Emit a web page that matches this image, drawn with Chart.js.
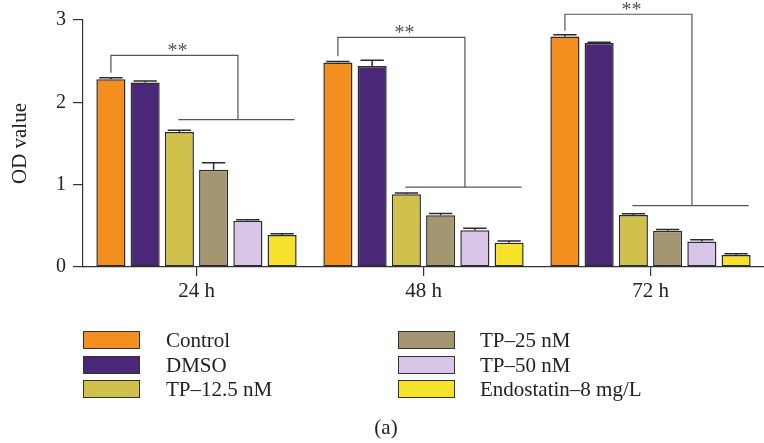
<!DOCTYPE html>
<html>
<head>
<meta charset="utf-8">
<script src="https://cdn.jsdelivr.net/npm/chart.js@4/dist/chart.umd.min.js"></script>
<style>
  html, body { margin: 0; padding: 0; background: #fff; }
  #wrap { position: relative; width: 764px; height: 443px; overflow: hidden; }
  canvas { position: absolute; left: 0; top: 0; }
  .lg { position: absolute; font-family: "Liberation Serif", "Times New Roman", serif; font-size: 21px; color: #222; white-space: nowrap; line-height: 1; }
  .sw { position: absolute; box-sizing: border-box; border: 1.5px solid #333; width: 57px; height: 18px; }
  #cap { position: absolute; left: 0; width: 764px; top: 417px; text-align: center; padding-left: 4px;
         font-family: "Liberation Serif", serif; font-size: 21px; color: #222; line-height: 1; }
</style>
</head>
<body>
<div id="wrap">
  <canvas id="c" width="764" height="443"></canvas>
  <div id="legend"></div>
  <div id="cap">(a)</div>
</div>
<script>
// ---- data ----
const categories = ['24 h', '48 h', '72 h'];
const seriesNames = ['Control', 'DMSO', 'TP\u201312.5 nM', 'TP\u201325 nM', 'TP\u201350 nM', 'Endostatin\u20138 mg/L'];

const controlValues = [2.28, 2.485, 2.80];
const dmsoValues    = [2.24, 2.44, 2.72];
const tp125Values   = [1.64, 0.885, 0.633];
const tp25Values    = [1.18, 0.63, 0.44];
const tp50Values    = [0.563, 0.447, 0.31];
const endoValues    = [0.39, 0.296, 0.146];

const controlErr = [0.02, 0.01, 0.02];
const dmsoErr    = [0.02, 0.07, 0.01];
const tp125Err   = [0.02, 0.015, 0.015];
const tp25Err    = [0.085, 0.02, 0.015];
const tp50Err    = [0.01, 0.025, 0.02];
const endoErr    = [0.015, 0.02, 0.015];

const yTicks = [0, 1, 2, 3];

// significance brackets (values in OD units)
const sigLabels      = ['**', '**', '**'];
const bracketTop     = [2.57, 2.79, 3.07];
const bracketLeftEnd = [2.36, 2.56, 2.87];
const bracketLow     = [1.79, 0.97, 0.745];

// ---- styles ----
const colours = ['#F28F1F', '#4A2777', '#CFC14C', '#A49670', '#D9C5E8', '#F6E22A'];
const serif = '"Liberation Serif", "Times New Roman", serif';

const allValues = [controlValues, dmsoValues, tp125Values, tp25Values, tp50Values, endoValues];
const allErr = [controlErr, dmsoErr, tp125Err, tp25Err, tp50Err, endoErr];

const datasets = seriesNames.map((name, i) => ({
  label: name,
  data: allValues[i],
  errors: allErr[i],
  backgroundColor: colours[i],
  borderColor: '#2b2b2b',
  borderWidth: 1.5,
  borderSkipped: false,
  categoryPercentage: 0.905,
  barPercentage: 0.85
}));

const errorBarPlugin = {
  id: 'errorBars',
  afterDatasetsDraw(chart) {
    const ctx = chart.ctx;
    const y = chart.scales.y;
    ctx.save();
    ctx.strokeStyle = '#2b2b2b';
    ctx.lineWidth = 1.5;
    chart.data.datasets.forEach((ds, di) => {
      const meta = chart.getDatasetMeta(di);
      meta.data.forEach((bar, i) => {
        const v = ds.data[i], e = ds.errors[i];
        const top = y.getPixelForValue(v);
        const cap = y.getPixelForValue(v + e);
        const half = bar.width * 0.4;
        ctx.beginPath();
        ctx.moveTo(bar.x, top);
        ctx.lineTo(bar.x, cap);
        ctx.moveTo(bar.x - half, cap);
        ctx.lineTo(bar.x + half, cap);
        ctx.stroke();
      });
    });
    ctx.restore();
  }
};

const bracketPlugin = {
  id: 'brackets',
  afterDraw(chart) {
    const ctx = chart.ctx;
    const y = chart.scales.y;
    ctx.save();
    ctx.strokeStyle = '#555';
    ctx.lineWidth = 1.2;
    categories.forEach((c, i) => {
      const b = k => chart.getDatasetMeta(k).data[i];
      const slot = b(4).x - b(3).x;
      const center = (b(2).x + b(3).x) / 2;
      const xLeft = b(0).x;
      const xRight = center + 1.21 * slot;
      const yTop = y.getPixelForValue(bracketTop[i]);
      const yLeftEnd = y.getPixelForValue(bracketLeftEnd[i]);
      const yLow = y.getPixelForValue(bracketLow[i]);
      const lowStart = b(2).x - 1;
      const lowEnd = b(5).x + b(5).width / 2 - 2;
      ctx.beginPath();
      ctx.moveTo(xLeft, yLeftEnd);
      ctx.lineTo(xLeft, yTop);
      ctx.lineTo(xRight, yTop);
      ctx.lineTo(xRight, yLow);
      ctx.moveTo(lowStart, yLow);
      ctx.lineTo(lowEnd, yLow);
      ctx.stroke();
      // label
      ctx.fillStyle = '#555';
      ctx.font = '20px ' + serif;
      ctx.textAlign = 'center';
      ctx.textBaseline = 'alphabetic';
      const m = ctx.measureText(sigLabels[i]);
      const asc = m.actualBoundingBoxAscent, desc = m.actualBoundingBoxDescent;
      const midTarget = yTop - 8;
      const baseline = midTarget + (asc - desc) / 2;
      ctx.fillText(sigLabels[i], (xLeft + xRight) / 2 + 3, baseline);
    });
    ctx.restore();
  }
};

new Chart(document.getElementById('c'), {
  type: 'bar',
  data: { labels: categories, datasets },
  options: {
    responsive: false,
    animation: false,
    devicePixelRatio: 1,
    layout: { padding: { left: 0, right: 0, top: 20, bottom: 146 } },
    plugins: { legend: { display: false }, tooltip: { enabled: false } },
    scales: {
      x: {
        type: 'category',
        offset: true,
        grid: { display: true, drawOnChartArea: false, drawTicks: true, tickLength: 9, offset: false, color: '#333', lineWidth: 1.2 },
        border: { display: true, color: '#333', width: 1.2 },
        ticks: { color: '#222', font: { family: serif, size: 21 }, padding: 3 },
        afterFit(scale) { scale.height = 30; }
      },
      y: {
        min: 0, max: 3,
        afterBuildTicks(scale) { scale.ticks = yTicks.map(v => ({ value: v })); },
        grid: { display: true, drawOnChartArea: false, drawTicks: true, tickLength: 10, color: '#333', lineWidth: 1.2 },
        border: { display: true, color: '#333', width: 1.2 },
        ticks: { color: '#222', font: { family: serif, size: 20 }, padding: 7 },
        title: { display: true, text: 'OD value', color: '#222', font: { family: serif, size: 21 }, padding: { top: 8, bottom: 0 } },
        afterFit(scale) { scale.width = 83; }
      }
    }
  },
  plugins: [errorBarPlugin, bracketPlugin]
});

// ---- legend (HTML, from series names and colours) ----
const legend = document.getElementById('legend');
const colX = [{ sw: 83, tx: 166 }, { sw: 398, tx: 480 }];
const rowY = [331, 355.7, 380.4];
seriesNames.forEach((name, i) => {
  const col = colX[Math.floor(i / 3)];
  const top = rowY[i % 3];
  const sw = document.createElement('div');
  sw.className = 'sw';
  sw.style.left = col.sw + 'px';
  sw.style.top = top + 'px';
  sw.style.background = colours[i];
  legend.appendChild(sw);
  const t = document.createElement('div');
  t.className = 'lg';
  t.style.left = col.tx + 'px';
  t.style.top = (top - 1) + 'px';
  t.textContent = name;
  legend.appendChild(t);
});
</script>
</body>
</html>
